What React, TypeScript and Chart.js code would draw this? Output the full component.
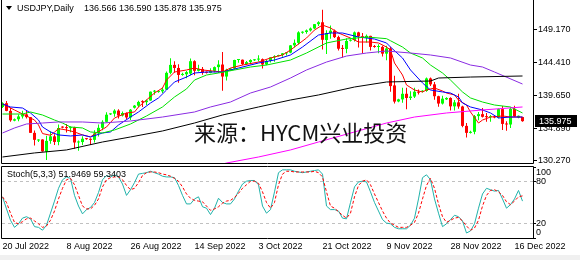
import React, { useEffect, useRef } from "react";
import { Chart, registerables } from "chart.js";

Chart.register(...registerables);

// ---------- data ----------
const opens = [
  138.0, 138.55, 137.45, 136.05, 136.25, 136.65, 136.95, 136.55, 134.3, 133.2,
  133.35, 131.6, 133.15, 133.8, 133.0, 135.2, 135.05, 134.98, 135.1, 132.92,
  132.98, 133.45, 133.4, 133.3, 134.22, 135.02, 135.88, 136.95, 137.05, 137.49,
  136.78, 137.15, 136.51, 137.9, 138.2, 138.73, 138.7, 138.94, 140.2, 140.15,
  140.25, 140.5, 142.9, 144.04, 143.6, 142.6, 142.7, 142.8, 144.57, 143.19,
  143.46, 142.95, 142.9, 143.19, 143.72, 144.09, 142.37, 143.3, 143.5, 144.74,
  144.78, 144.16, 144.44, 144.7, 144.8, 144.86, 144.1, 144.6, 145.12, 145.3,
  145.45, 145.7, 145.8, 146.84, 147.2, 148.65, 148.75, 148.98, 149.26, 149.88,
  150.15, 147.6, 148.6, 148.94, 148.02, 146.36, 146.33, 147.5, 147.6, 148.7,
  148.15, 147.9, 148.2, 146.7, 146.6, 146.62, 145.65, 146.4, 141.1, 138.8,
  139.1, 139.9, 139.3, 139.5, 140.2, 140.2, 140.3, 142.1, 141.25, 139.55,
  138.5, 139.1, 139.3, 138.1, 138.67, 138.08, 135.3, 134.3, 134.45, 136.7,
  136.98, 136.6, 136.55, 136.6, 136.5, 137.7, 135.58, 135.5, 137.75, 136.5,
  136.566,
];
const highs = [
  138.7, 138.88, 137.9, 136.35, 136.92, 137.47, 137.46, 136.58, 134.62, 133.4,
  133.4, 133.9, 134.54, 134.1, 135.5, 135.25, 135.58, 135.26, 135.18, 133.21,
  133.81, 133.55, 133.51, 134.69, 135.48, 136.09, 137.24, 137.1, 137.69, 137.7,
  137.35, 137.22, 137.72, 138.3, 138.9, 138.99, 139.08, 140.23, 140.44, 140.3,
  140.8, 143.08, 144.99, 144.55, 144.15, 142.9, 143.16, 144.96, 144.7, 144.06,
  143.73, 143.1, 143.56, 143.81, 144.7, 145.9, 143.5, 143.6, 144.78, 144.88,
  144.83, 144.59, 144.84, 144.9, 145.41, 144.95, 144.79, 145.14, 145.42, 145.5,
  145.75, 145.9, 146.9, 147.67, 148.86, 148.85, 149.1, 149.4, 149.9, 150.3,
  151.94, 149.0, 149.7, 149.1, 148.2, 146.9, 147.87, 147.7, 148.84, 148.8,
  148.6, 148.4, 148.2, 146.9, 147.0, 146.8, 146.8, 146.6, 142.5, 139.2,
  140.78, 140.75, 140.25, 140.75, 140.5, 140.4, 142.25, 142.25, 141.6, 139.6,
  139.6, 139.4, 139.4, 139.0, 139.9, 138.2, 135.7, 134.6, 136.85, 137.3,
  137.85, 137.15, 136.85, 136.7, 137.8, 138.15, 135.95, 138.0, 138.2, 136.8,
  136.59,
];
const lows = [
  137.85, 137.4, 135.9, 135.95, 135.95, 136.34, 136.37, 134.27, 132.5, 133.0,
  131.6, 130.4, 132.73, 132.55, 132.53, 134.95, 134.36, 134.38, 132.04, 131.73,
  132.55, 133.3, 132.55, 132.92, 133.79, 134.66, 135.79, 136.85, 136.62, 136.36,
  136.64, 136.3, 136.16, 137.8, 138.0, 138.02, 138.3, 138.89, 139.75, 140.05,
  140.0, 140.47, 142.71, 142.9, 141.49, 142.5, 142.13, 142.55, 142.55, 143.11,
  142.64, 142.8, 142.84, 143.0, 142.88, 140.35, 141.8, 143.2, 143.36, 144.36,
  143.99, 144.01, 144.12, 144.6, 144.52, 143.53, 143.98, 144.4, 144.48, 145.25,
  145.2, 145.4, 145.7, 146.55, 146.95, 148.5, 148.5, 148.82, 149.15, 149.6,
  146.23, 145.6, 147.8, 147.9, 146.1, 145.1, 145.7, 147.4, 147.4, 146.55,
  145.7, 147.25, 146.1, 146.5, 145.7, 145.25, 144.7, 140.2, 138.5, 138.7,
  138.6, 137.7, 139.0, 139.3, 139.8, 140.1, 140.2, 141.0, 139.05, 138.05,
  138.35, 139.0, 137.5, 137.5, 137.75, 135.1, 133.62, 134.2, 134.1, 136.1,
  136.5, 135.9, 135.9, 136.4, 136.4, 134.7, 134.6, 135.0, 136.6, 136.4,
  135.878,
];
const closes = [
  138.55, 137.45, 136.1, 136.25, 136.65, 136.95, 136.55, 134.3, 133.3, 133.35,
  131.65, 133.15, 133.8, 133.0, 135.0, 135.05, 134.98, 135.11, 132.92, 132.98,
  133.46, 133.4, 133.3, 134.22, 135.02, 135.88, 136.9, 137.05, 137.49, 136.78,
  137.15, 136.51, 137.62, 138.2, 138.73, 138.7, 138.94, 140.2, 140.21, 140.25,
  140.5, 142.9, 144.04, 143.6, 142.6, 142.7, 143.0, 144.57, 143.19, 143.46,
  142.93, 142.9, 143.19, 143.72, 144.09, 142.37, 143.35, 143.5, 144.74, 144.78,
  144.16, 144.44, 144.74, 144.8, 144.86, 144.1, 144.6, 145.12, 145.28, 145.45,
  145.7, 145.8, 146.84, 147.2, 148.7, 148.75, 148.98, 149.26, 149.88, 150.15,
  147.64, 148.6, 148.94, 148.02, 146.36, 146.33, 147.47, 147.6, 148.7, 148.15,
  147.9, 148.2, 146.62, 146.6, 146.62, 145.65, 146.4, 141.0, 138.78, 139.1,
  139.9, 139.3, 139.5, 140.2, 140.05, 140.3, 142.1, 141.25, 139.55, 138.5,
  139.2, 139.3, 138.1, 138.67, 138.08, 135.3, 134.3, 134.45, 136.7, 136.98,
  136.6, 136.55, 136.6, 136.5, 137.7, 135.58, 135.5, 137.75, 136.65, 136.75,
  135.975,
];

// moving averages: [bar index, price]
const maRed: [number, number][] = [
  [0, 138.44], [3, 137.58], [6, 136.72], [8, 136.14], [9, 135.43], [10, 134.2], [12, 133.95],
  [13, 134.4], [14, 134.9], [16, 134.71], [18, 134.43], [20, 134.0], [22, 133.71], [23, 134.14],
  [26, 135.14], [28, 136.43], [31, 137.15], [33, 137.29], [34, 138.01], [36, 139.01], [38, 140.01],
  [40, 140.73], [41, 141.87], [43, 143.02], [46, 143.31], [48, 143.59], [50, 143.31], [55, 143.02],
  [57, 143.59], [60, 144.02], [64, 144.45], [67, 145.03], [70, 145.46], [72, 146.17], [73, 146.6],
  [76, 147.89], [78, 149.04], [80, 149.75], [82, 149.33], [84, 148.61], [87, 147.89], [89, 147.32],
  [92, 147.32], [94, 147.18], [96, 146.6], [97, 146.17], [98, 144.31], [100, 142.59], [101, 141.16],
  [103, 140.44], [105, 140.16], [106, 140.44], [108, 140.73], [110, 140.3], [111, 140.01],
  [113, 139.73], [114, 139.01], [116, 138.29], [117, 137.29], [119, 135.71], [120, 136.14],
  [122, 136.57], [125, 136.72], [127, 136.57], [130, 136.57],
];
const maBlue: [number, number][] = [
  [0, 138.44], [2, 138.01], [5, 137.86], [7, 137.15], [9, 136.14], [10, 135.14], [12, 134.43],
  [14, 134.0], [17, 133.85], [20, 134.0], [22, 133.71], [25, 134.28], [27, 134.43], [29, 135.43],
  [32, 136.57], [34, 137.29], [37, 138.58], [39, 139.3], [41, 140.44], [43, 141.59], [46, 142.3],
  [48, 142.88], [51, 143.02], [55, 143.02], [59, 143.59], [64, 144.31], [68, 144.74], [72, 145.46],
  [75, 146.6], [79, 148.32], [82, 148.61], [85, 148.61], [89, 148.04], [93, 147.75], [96, 147.18],
  [97, 146.6], [100, 145.03], [102, 143.31], [105, 141.45], [107, 140.44], [110, 140.16],
  [112, 140.01], [114, 139.44], [115, 138.58], [117, 138.01], [120, 137.58], [122, 137.15],
  [124, 136.43], [127, 136.57], [130, 136.57],
];
const maGreen: [number, number][] = [
  [0, 137.0], [5, 137.0], [7, 137.29], [10, 136.86], [13, 136.14], [15, 135.71], [17, 135.14],
  [20, 135.0], [22, 134.43], [25, 134.28], [28, 134.71], [32, 135.57], [36, 136.72], [40, 138.01],
  [43, 139.44], [46, 140.59], [48, 141.87], [51, 142.59], [54, 142.88], [58, 143.31], [62, 143.74],
  [66, 144.02], [72, 144.74], [76, 145.74], [81, 147.18], [86, 147.75], [91, 148.04], [96, 147.8],
  [97, 147.5], [100, 146.6], [102, 145.74], [105, 145.03], [107, 144.02], [110, 142.88],
  [112, 141.87], [115, 140.16], [117, 139.3], [120, 138.72], [123, 138.29], [127, 138.01],
  [130, 137.15],
];
const maPurple: [number, number][] = [
  [0, 134.28], [3, 135.0], [6, 135.57], [10, 135.71], [14, 135.86], [20, 135.86], [25, 135.71],
  [32, 136.0], [40, 136.57], [48, 137.29], [52, 138.01], [57, 138.72], [62, 140.01], [67, 140.87],
  [72, 142.16], [76, 143.31], [81, 144.45], [86, 145.31], [91, 145.74], [96, 146.03], [102, 145.74],
  [107, 145.46], [112, 145.03], [117, 144.02], [120, 143.74], [123, 143.02], [130, 141.3],
];
const maBlack: [number, number][] = [
  [0, 130.84], [8, 131.42], [16, 131.85], [25, 132.99], [32, 133.71], [40, 134.57], [48, 135.71],
  [55, 136.86], [64, 138.01], [72, 139.01], [79, 139.73], [88, 140.87], [96, 141.59], [107, 141.73],
  [109, 142.16], [117, 142.3], [130, 142.45],
];
const maMagenta: [number, number][] = [
  [50, 128.98], [56, 129.98], [64, 130.84], [72, 131.85], [79, 132.99], [88, 134.43], [96, 135.71],
  [103, 136.57], [111, 137.15], [120, 137.58], [130, 138.01],
];

// stochastic (5,3,3)
const stochK = [
  58, 41, 25, 15, 20, 28, 30, 27, 16, 15,
  11, 18, 35, 52, 70, 82, 86, 84, 60, 45,
  34, 40, 43, 50, 64, 82, 88, 86, 89, 86,
  76, 60, 68, 78, 90, 91, 92, 94, 92, 90,
  87, 86, 86, 85, 74, 60, 48, 48, 55, 58,
  44, 42, 33, 42, 56, 50, 48, 48, 55, 66,
  76, 80, 81, 81, 75, 45, 35, 40, 65, 92,
  96, 96, 96, 94, 93, 92, 93, 94, 95, 96,
  90, 45, 40, 40, 38, 28, 27, 50, 72, 79,
  80, 79, 65, 50, 38, 26, 21, 20, 15, 13,
  13, 13, 18, 28, 55, 85, 89, 82, 55, 35,
  16, 20, 26, 32, 30, 24, 7, 10, 20, 42,
  62, 70, 68, 66, 67, 55, 42, 47, 55, 67, 51.9469,
];
const stochD = [
  58, 50, 35, 22, 20, 23, 27, 28, 24, 20,
  15, 17, 25, 38, 55, 70, 82, 84, 75, 60,
  45, 41, 41, 46, 55, 72, 82, 85, 86, 86,
  82, 74, 68, 70, 78, 88, 92, 93, 93, 92,
  90, 89, 87, 84, 80, 72, 62, 56, 53, 52,
  51, 45, 39, 41, 44, 49, 52, 53, 57, 63,
  70, 75, 80, 80, 77, 65, 50, 42, 50, 75,
  90, 94, 94, 93, 93, 93, 93, 93, 94, 92,
  86, 65, 45, 42, 37, 32, 28, 35, 58, 74,
  80, 82, 75, 62, 50, 38, 28, 21, 18, 15,
  15, 15, 18, 22, 35, 55, 74, 84, 70, 48,
  30, 22, 25, 28, 29, 24, 17, 11, 14, 25,
  45, 60, 67, 68, 65, 60, 51, 47, 52, 58, 59.3403,
];

const priceTicks = [149.17, 144.41, 139.65, 134.89, 130.27];
const stochTicks = [0, 20, 80, 100];
const dateTickIdx = [0, 16, 32, 48, 64, 80, 96, 112, 128];
const dateLabels = [
  "20 Jul 2022", "8 Aug 2022", "26 Aug 2022", "14 Sep 2022", "3 Oct 2022",
  "21 Oct 2022", "9 Nov 2022", "28 Nov 2022", "16 Dec 2022",
];

// ---------- layout / style ----------
const FONT = '"Liberation Sans", Arial, sans-serif';
const PRICE_MIN = 129.98;
const PRICE_MAX = 153.34;
const X_MIN = -0.125;
const X_MAX = 132.625;
const BULL = "#00ff00";
const BEAR = "#ff0000";

const last = closes.length - 1;

function xy(arr: [number, number][]) {
  return arr.map(([x, y]) => ({ x, y }));
}

function lineDs(arr: [number, number][], color: string, order = 1) {
  return {
    type: "line" as const,
    data: xy(arr),
    borderColor: color,
    borderWidth: 1,
    pointRadius: 0,
    tension: 0,
    order,
  };
}

const framePlugin = (drawTop: boolean) => ({
  id: "frame",
  afterDraw(chart: any) {
    const { ctx, chartArea: a } = chart;
    ctx.save();
    ctx.strokeStyle = "#000";
    ctx.lineWidth = 1;
    ctx.beginPath();
    const l = a.left - 0.5, r = a.right + 0.5, t = a.top - 0.5, b = a.bottom + 0.5;
    ctx.moveTo(l, t);
    ctx.lineTo(l, b);
    ctx.lineTo(r, b);
    ctx.lineTo(r, t);
    if (drawTop) ctx.lineTo(l, t);
    ctx.stroke();
    ctx.restore();
  },
});

const priceBoxPlugin = {
  id: "pricebox",
  afterDraw(chart: any) {
    const { ctx } = chart;
    const y = Math.round(chart.scales.y.getPixelForValue(closes[last]));
    const x0 = chart.chartArea.right + 2;
    ctx.save();
    ctx.fillStyle = "#000";
    ctx.fillRect(x0, y - 6, 42, 12);
    ctx.fillStyle = "#fff";
    ctx.font = `9px ${FONT}`;
    ctx.textBaseline = "middle";
    ctx.textAlign = "left";
    ctx.fillText(closes[last].toFixed(3), x0 + 4, y + 0.5);
    ctx.restore();
  },
};

export default function App() {
  const mainRef = useRef<HTMLCanvasElement>(null);
  const stochRef = useRef<HTMLCanvasElement>(null);

  useEffect(() => {
    Chart.defaults.font.family = FONT;
    const idx = closes.map((_, i) => i);
    const colors = idx.map((i) => (closes[i] >= opens[i] ? BULL : BEAR));

    const main = new Chart(mainRef.current as HTMLCanvasElement, {
      type: "bar",
      data: {
        datasets: [
          lineDs(maMagenta, "#ff00ff", 0),
          lineDs(maBlack, "#000000", 0),
          lineDs(maPurple, "#8a2be2", 0),
          lineDs(maGreen, "#00e000", 0),
          lineDs(maBlue, "#0000ff", 0),
          lineDs(maRed, "#ff0000", 0),
          {
            type: "bar",
            data: idx.map((i) => ({ x: i, y: [opens[i], closes[i]] })),
            backgroundColor: colors,
            barThickness: 3,
            grouped: false,
            minBarLength: 1,
            inflateAmount: 0,
            order: 2,
          },
          {
            type: "bar",
            data: idx.map((i) => ({ x: i, y: [lows[i], highs[i]] })),
            backgroundColor: colors,
            barThickness: 1,
            grouped: false,
            minBarLength: 1,
            inflateAmount: 0,
            order: 3,
          },
        ] as any,
      },
      options: {
        responsive: false,
        animation: false,
        events: [],
        layout: { padding: { left: 2, top: 0, right: 0, bottom: 3 } },
        plugins: { legend: { display: false }, tooltip: { enabled: false } },
        scales: {
          x: {
            type: "linear",
            display: false,
            min: X_MIN,
            max: X_MAX,
            offset: false,
          },
          y: {
            position: "right",
            min: PRICE_MIN,
            max: PRICE_MAX,
            afterBuildTicks: (s: any) => {
              s.ticks = priceTicks.map((v) => ({ value: v }));
            },
            afterFit: (s: any) => {
              s.width = 47;
              s.paddingTop = 0;
              s.paddingBottom = 0;
            },
            ticks: {
              autoSkip: false,
              padding: 1,
              color: "#000",
              font: { family: FONT, size: 9 },
              callback: (v: any) => Number(v).toFixed(3),
            },
            grid: {
              display: true,
              drawOnChartArea: false,
              drawTicks: true,
              tickLength: 4,
              tickColor: "#000",
              color: "#000",
            },
            border: { display: false },
          },
        } as any,
      },
      plugins: [framePlugin(false), priceBoxPlugin],
    } as any);

    const stoch = new Chart(stochRef.current as HTMLCanvasElement, {
      type: "line",
      data: {
        datasets: [
          {
            data: stochD.map((v, i) => ({ x: i, y: v })),
            borderColor: "#ff0000",
            borderDash: [3, 2],
            borderWidth: 1,
            pointRadius: 0,
            tension: 0,
            order: 0,
          },
          {
            data: stochK.map((v, i) => ({ x: i, y: v })),
            borderColor: "#20b2aa",
            borderWidth: 1,
            pointRadius: 0,
            tension: 0,
            order: 1,
          },
        ],
      },
      options: {
        responsive: false,
        animation: false,
        events: [],
        layout: { padding: { left: 2, top: 2, right: 0, bottom: 0 } },
        plugins: { legend: { display: false }, tooltip: { enabled: false } },
        scales: {
          x: {
            type: "linear",
            min: X_MIN,
            max: X_MAX,
            offset: false,
            afterBuildTicks: (s: any) => {
              s.ticks = dateTickIdx.map((v) => ({ value: v }));
            },
            afterFit: (s: any) => {
              s.height = 22;
              s.paddingLeft = 0;
              s.paddingRight = 0;
            },
            ticks: {
              autoSkip: false,
              maxRotation: 0,
              minRotation: 0,
              align: "start",
              padding: 3,
              color: "#000",
              font: { family: FONT, size: 9 },
              callback: (v: any) => dateLabels[dateTickIdx.indexOf(Number(v))] ?? "",
            },
            grid: { display: false, drawTicks: false, tickLength: 0 },
            border: { display: false },
          },
          y: {
            position: "right",
            min: 0,
            max: 100,
            afterBuildTicks: (s: any) => {
              s.ticks = stochTicks.map((v) => ({ value: v }));
            },
            afterFit: (s: any) => {
              s.width = 47;
              s.paddingTop = 0;
              s.paddingBottom = 0;
            },
            ticks: {
              autoSkip: false,
              padding: 0,
              color: "#000",
              font: { family: FONT, size: 9 },
              callback: (v: any) => {
                const n = Number(v);
                if (n === 100) return ["", "100"];
                if (n === 0) return ["0", ""];
                return String(n);
              },
            },
            grid: {
              display: true,
              drawOnChartArea: true,
              drawTicks: true,
              tickLength: 3,
              tickColor: "#000",
              color: (c: any) =>
                c.tick && (c.tick.value === 20 || c.tick.value === 80) ? "#c0c0c0" : "rgba(0,0,0,0)",
            },
            border: { display: false, dash: [3, 3] },
          },
        } as any,
      },
      plugins: [framePlugin(true)],
    } as any);

    return () => {
      main.destroy();
      stoch.destroy();
    };
  }, []);

  const txt: React.CSSProperties = {
    position: "absolute",
    fontFamily: FONT,
    fontSize: 9,
    lineHeight: "12px",
    color: "#000",
    whiteSpace: "pre",
  };

  return (
    <div
      style={{
        position: "fixed",
        left: 0,
        top: 0,
        width: 580,
        height: 260,
        background: "#fff",
        overflow: "hidden",
      }}
    >
      <canvas
        ref={mainRef}
        width={580}
        height={166}
        style={{ position: "absolute", left: 0, top: 0, width: 580, height: 166 }}
      />
      <canvas
        ref={stochRef}
        width={580}
        height={95}
        style={{ position: "absolute", left: 0, top: 165, width: 580, height: 95 }}
      />
      <div
        style={{
          position: "absolute",
          left: 6,
          top: 6,
          width: 0,
          height: 0,
          borderLeft: "3.5px solid transparent",
          borderRight: "3.5px solid transparent",
          borderTop: "4px solid #000",
        }}
      />
      <div style={{ ...txt, left: 17, top: 2 }}>USDJPY,Daily</div>
      <div style={{ ...txt, left: 84, top: 2 }}>
        {`${opens[last].toFixed(3)} ${highs[last].toFixed(3)} ${lows[last].toFixed(3)} ${closes[last].toFixed(3)}`}
      </div>
      <div style={{ ...txt, left: 7, top: 168 }}>
        {`Stoch(5,3,3) ${stochK[last].toFixed(4)} ${stochD[last].toFixed(4)}`}
      </div>
      <div
        style={{
          position: "absolute",
          left: 194,
          top: 120,
          fontFamily: '"Noto Sans CJK SC", sans-serif',
          fontSize: 22,
          lineHeight: "22px",
          color: "#111",
          whiteSpace: "pre",
        }}
      >
        来源：HYCM兴业投资
      </div>
      <div
        style={{ position: "absolute", left: 0, top: 255, width: 580, height: 5, background: "#f0f0f0" }}
      />
    </div>
  );
}
